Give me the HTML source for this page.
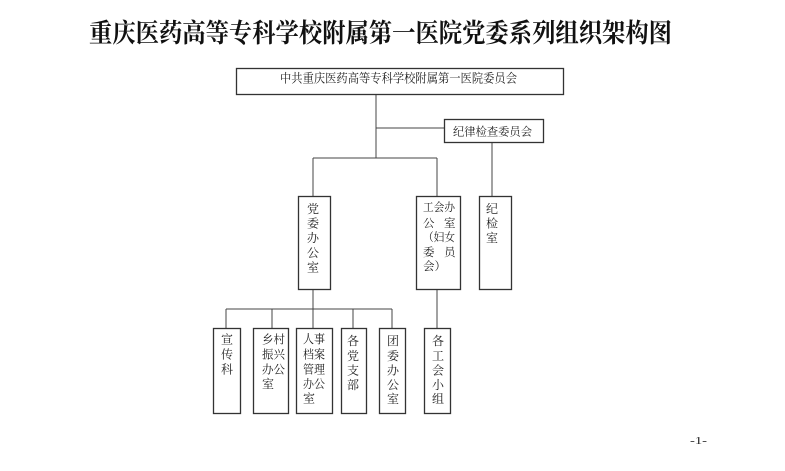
<!DOCTYPE html>
<html><head><meta charset="utf-8"><style>
html,body{margin:0;padding:0;background:#fff;}
svg{display:block;}
text{font-family:"Liberation Serif","Noto Serif CJK SC","Noto Sans CJK SC",serif;fill:#222;}
.t{font-size:12px;}
</style></head><body>
<svg width="785" height="471" viewBox="0 0 785 471" xmlns="http://www.w3.org/2000/svg">
<text x="89" y="42" font-size="26" font-weight="bold" textLength="583" lengthAdjust="spacingAndGlyphs" style="font-family:'Liberation Serif','Noto Serif CJK SC',serif;fill:#111">重庆医药高等专科学校附属第一医院党委系列组织架构图</text>

<g stroke="#444" stroke-width="1" fill="none">
<line x1="376" y1="94" x2="376" y2="158"/>
<line x1="376" y1="128" x2="444" y2="128"/>
<line x1="313" y1="158" x2="437" y2="158"/>
<line x1="313" y1="158" x2="313" y2="196"/>
<line x1="437" y1="158" x2="437" y2="196"/>
<line x1="492" y1="142" x2="492" y2="196"/>
<line x1="313" y1="289" x2="313" y2="309"/>
<line x1="226" y1="309" x2="392" y2="309"/>
<line x1="226" y1="309" x2="226" y2="328"/>
<line x1="272" y1="309" x2="272" y2="328"/>
<line x1="313" y1="309" x2="313" y2="328"/>
<line x1="353" y1="309" x2="353" y2="328"/>
<line x1="392" y1="309" x2="392" y2="328"/>
<line x1="437" y1="289" x2="437" y2="328"/>
</g>

<g stroke="#333" stroke-width="1.3" fill="#fff">
<rect x="236.5" y="68.5" width="327" height="26"/>
<rect x="444.5" y="119.5" width="99" height="23"/>
<rect x="298.5" y="196.5" width="32" height="93"/>
<rect x="416.5" y="196.5" width="44" height="93"/>
<rect x="479.5" y="196.5" width="32" height="93"/>
<rect x="213.5" y="328.5" width="27" height="85"/>
<rect x="253.5" y="328.5" width="35" height="85"/>
<rect x="296.5" y="328.5" width="36" height="85"/>
<rect x="341.5" y="328.5" width="25" height="85"/>
<rect x="379.5" y="328.5" width="26" height="85"/>
<rect x="424.5" y="328.5" width="26" height="85"/>
</g>

<text x="280" y="82.5" font-size="12.5" textLength="237" lengthAdjust="spacingAndGlyphs">中共重庆医药高等专科学校附属第一医院委员会</text>
<text x="453" y="135.5" font-size="11.5" textLength="79" lengthAdjust="spacingAndGlyphs">纪律检查委员会</text>

<g class="t" text-anchor="middle" font-size="12">
<text x="313" y="213">党</text>
<text x="313" y="227.5">委</text>
<text x="313" y="242">办</text>
<text x="313" y="257">公</text>
<text x="313" y="271.5">室</text>

<text x="492" y="213">纪</text>
<text x="492" y="227.5">检</text>
<text x="492" y="242">室</text>

<text x="227" y="343.5">宣</text>
<text x="227" y="358.5">传</text>
<text x="227" y="373.5">科</text>

<text x="353" y="345">各</text>
<text x="353" y="360">党</text>
<text x="353" y="374.5">支</text>
<text x="353" y="389">部</text>

<text x="393" y="345">团</text>
<text x="393" y="360">委</text>
<text x="393" y="374.5">办</text>
<text x="393" y="389">公</text>
<text x="393" y="403">室</text>

<text x="438" y="345">各</text>
<text x="438" y="360">工</text>
<text x="438" y="374.5">会</text>
<text x="438" y="389">小</text>
<text x="438" y="403">组</text>
</g>

<g font-size="11.5">
<text x="423" y="211" textLength="32" lengthAdjust="spacingAndGlyphs">工会办</text>
<text x="423" y="227">公</text><text x="444" y="227">室</text>
<text x="423" y="241" textLength="32" lengthAdjust="spacingAndGlyphs">（妇女</text>
<text x="423" y="256">委</text><text x="444" y="256">员</text>
<text x="423" y="270">会）</text>
</g>

<g font-size="12">
<text x="262" y="343.5" textLength="23" lengthAdjust="spacingAndGlyphs">乡村</text>
<text x="262" y="358.5" textLength="23" lengthAdjust="spacingAndGlyphs">振兴</text>
<text x="262" y="373.5" textLength="23" lengthAdjust="spacingAndGlyphs">办公</text>
<text x="262" y="388">室</text>

<text x="303" y="343" textLength="22" lengthAdjust="spacingAndGlyphs">人事</text>
<text x="303" y="358.5" textLength="22" lengthAdjust="spacingAndGlyphs">档案</text>
<text x="303" y="373.5" textLength="22" lengthAdjust="spacingAndGlyphs">管理</text>
<text x="303" y="388" textLength="22" lengthAdjust="spacingAndGlyphs">办公</text>
<text x="303" y="402.5">室</text>
</g>

<text x="690" y="444" font-size="11" textLength="17" lengthAdjust="spacingAndGlyphs">-1-</text>
</svg>
</body></html>
